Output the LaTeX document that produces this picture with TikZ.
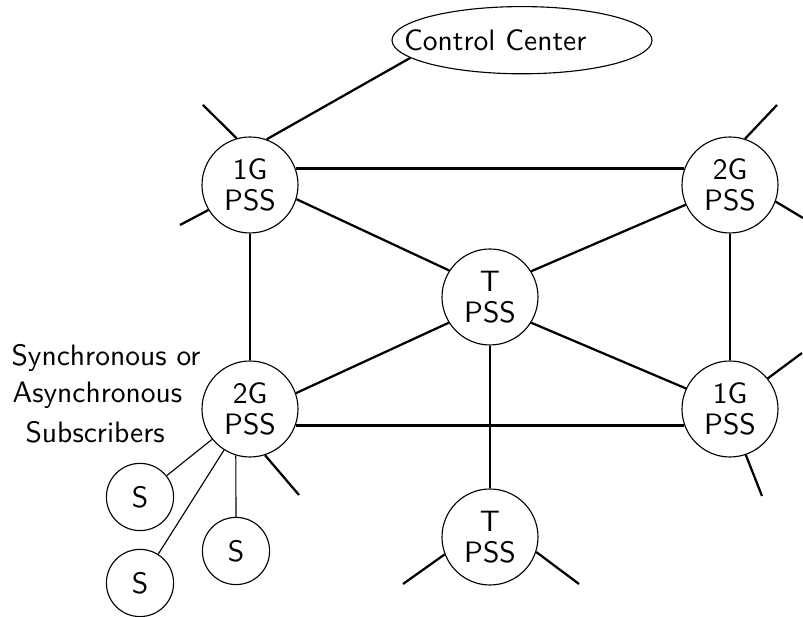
\documentclass[tikz,border=0pt]{standalone}
\usetikzlibrary{positioning,calc}
\usetikzlibrary{shapes}

\begin{document}
\begin{tikzpicture}[every node/.style={font=\sffamily\fontsize{10.5}{12}\selectfont},
    pss/.style={circle,draw,minimum size=1.2cm,inner sep=0,align=center},
    subs/.style={circle,draw,minimum size=0.84cm,inner sep=0},
    lbl/.style={anchor=base west,inner sep=0}]

      \useasboundingbox (0,0) rectangle (10.0375,7.7125);

      \node[draw,ellipse,minimum width=3.25cm,minimum height=0.84cm] at (6.525,7.21) (cc) {};
      \node at (6.19,7.21) (cctext) {Control Center};

      \node[pss] at (3.125,5.4) (G1a) {1G\\[-1pt]PSS};
      \node[pss] at (9.125,5.4) (G2a) {2G\\[-1pt]PSS};
      \node[pss] at (6.125,4.0) (T1) {T\\[-1pt]PSS};
      \node[pss] at (3.125,2.6) (G2b) {2G\\[-1pt]PSS};
      \node[pss] at (9.125,2.6) (G1b) {1G\\[-1pt]PSS};
      \node[pss] at (6.125,1.0) (T2) {T\\[-1pt]PSS};

      \node[subs] at (1.75,1.5) (S1) {S};
      \node[subs] at (1.75,0.425) (S2) {S};
      \node[subs] at (2.95,0.825) (S3) {S};

      \node[lbl] at (0.1375,3.1375) (l1) {Synchronous or};
      \node[lbl] at (0.15,2.675) (l2) {Asynchronous};
      \node[lbl] at (0.3125,2.175) (l3) {Subscribers};

      % loose ends
      \coordinate (e1) at (2.5375,6.4);
      \coordinate (e2) at (2.25,4.9);
      \coordinate (e3) at (9.7125,6.4);
      \coordinate (e4) at (10.0375,4.9875);
      \coordinate (e5) at (10.025,3.3);
      \coordinate (e6) at (9.525,1.5125);
      \coordinate (e7) at (3.7375,1.525);
      \coordinate (e8) at (5.0375,0.4125);
      \coordinate (e9) at (7.2375,0.4125);

      \draw[thick] (G1a.70)--(cc.189);
      \draw[thick] (G1a.20)--(G2a.160);
      \draw[thick] (G1a.-17)--(T1.147);
      \draw[thick] (G2a.-156)--(T1.32);
      \draw[thick] (G1a.south)--(G2b.north);
      \draw[thick] (G2a.south)--(G1b.north);
      \draw[thick] (T1.212)--(G2b.19.5);
      \draw[thick] (T1.-32)--(G1b.155);
      \draw[thick] (G2b.-20)--(G1b.200);
      \draw[thick] (T1.south)--(T2.north);

      \draw[thick] (G1a.106)--(e1);
      \draw[thick] (G1a.-149)--(e2);
      \draw[thick] (G2a.72)--(e3);
      \draw[thick] (G2a.-20)--(e4);
      \draw[thick] (G1b.39)--(e5);
      \draw[thick] (G1b.-71.5)--(e6);
      \draw[thick] (G2b.-72)--(e7);
      \draw[thick] (T2.201)--(e8);
      \draw[thick] (T2.-18.5)--(e9);

      \draw (G2b)--(S1);
      \draw (G2b)--(S2);
      \draw (G2b.-107)--(S3.north);
    \end{tikzpicture}
\end{document}
